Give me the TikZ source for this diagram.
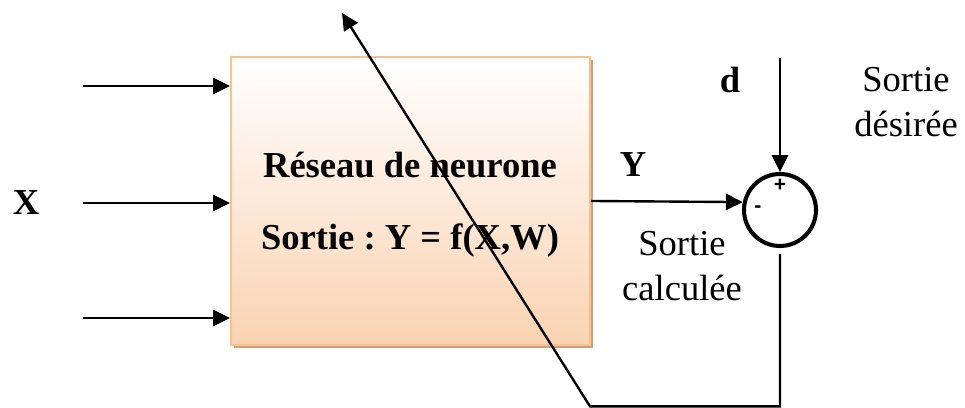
\documentclass[tikz,border=0pt]{standalone}
\usepackage{fontspec}
\setmainfont{Liberation Serif}
\newfontfamily\signfont{Liberation Sans}
\usepackage{tikz}
\usetikzlibrary{arrows.meta, positioning, calc, shadows}
\definecolor{myorange}{RGB}{250,192,143}
\definecolor{mypeach}{RGB}{250,211,178}
\definecolor{myshadow}{RGB}{206,160,124}
\frenchspacing
\tikzset{
  block/.style={rectangle, draw=myorange, top color=white, bottom color=mypeach,
    minimum width=8.975cm, minimum height=7.2cm, line width=1.5pt,
    drop shadow={shadow xshift=0.08cm, shadow yshift=-0.08cm, fill=myshadow, opacity=1}},
  arrow/.style={-{Triangle[length=12pt, width=11.5pt]}, line width=1.7pt, color=black},
  line/.style={line width=1.7pt, color=black},
  sumnode/.style={circle, draw, line width=2.9pt, minimum size=1.8cm, inner sep=0pt},
  txt/.style={font=\fontsize{26}{32}\selectfont, align=center, inner sep=0pt},
  btxt/.style={txt, font=\fontsize{26}{32}\selectfont\bfseries},
  sign/.style={font=\signfont\bfseries\fontsize{15}{16}\selectfont, inner sep=0pt}
}

\begin{document}
\begin{tikzpicture}
  \useasboundingbox (0,0) rectangle (24.125,10.2);
  \node [block] (net) at (10.2625,5.175) {};
  \node [btxt] (title) at (10.25,6.075) {Réseau de neurone};
  \node [btxt] (func) at (10.25,4.175) {Sortie : Y = f(X,W)};
  % entrees
  \coordinate (in1) at (2.075,8.05);
  \coordinate (in2) at (2.075,5.125);
  \coordinate (in3) at (2.075,2.25);
  \foreach \i in {1,2,3}
    \draw [arrow] (in\i) -- (in\i -| net.west);
  \node [btxt] (X) at (0.65,5.125) {X};
  % comparateur
  \node [sumnode] (sum) at (19.5,4.95) {};
  \node [sign] (plus) at (19.5,5.575) {+};
  \node [sign] (minus) at (18.95,4.975) {-};
  \draw [arrow] (net.east) -- (sum.168);
  \node [btxt] (Y) at (15.825,6.075) {Y};
  \node [txt] (calc) at (17.05,3.55) {Sortie\\calculée};
  \coordinate (dtop) at (19.5,8.75);
  \draw [arrow] (dtop) -- (sum.north);
  \node [btxt] (d) at (18.25,8.2) {d};
  \node [txt] (des) at (22.65,7.65) {Sortie\\désirée};
  % retour de l'erreur
  \coordinate (errtop) at ($(sum.south)+(0,-0.15)$);
  \coordinate (errbot) at (19.5,0.04);
  \coordinate (errcorner) at (14.75,0.04);
  \coordinate (adjust) at (8.55,9.875);
  \draw [arrow] (errtop) -- (errbot) -- (errcorner) -- (adjust);
\end{tikzpicture}
\end{document}
